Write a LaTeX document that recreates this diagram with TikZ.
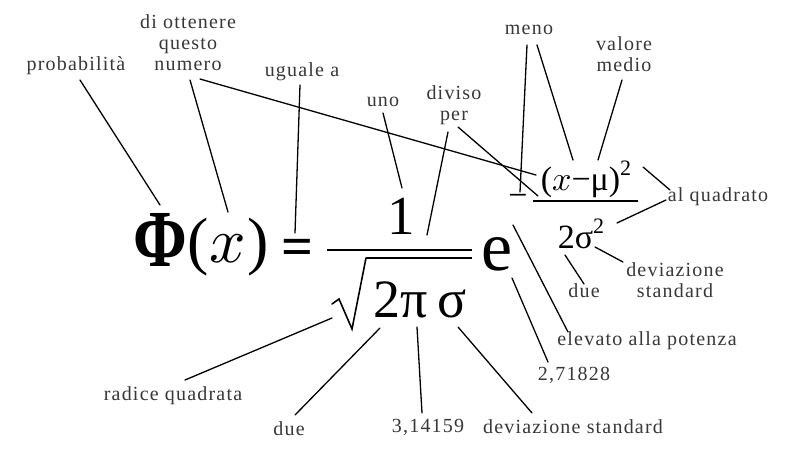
\documentclass[tikz,border=0pt]{standalone}
\usepackage{fontspec}
\setmainfont{Liberation Serif}
\newfontfamily\lblfont[LetterSpace=6]{Liberation Serif}
\newcommand{\bigx}[1]{\scalebox{#1}{\fontsize{10}{12}\selectfont$x$}}
\begin{document}
\begin{tikzpicture}[x=1pt,y=-1pt,line cap=round,
  lbl/.style={font=\lblfont\fontsize{20}{21}\selectfont,align=center,inner sep=0pt,text=black!78},
  conn/.style={line width=1.3pt},
  barline/.style={line width=2.2pt,line cap=butt},
  fm/.style={inner sep=0pt}]
\fill[white] (0,0) rectangle (793,472);
\useasboundingbox (0,0) rectangle (793,472);
% labels
\node[lbl] (prob) at (76,66) {probabilità};
\node[lbl] (ott) at (188,43) {di ottenere\\questo\\numero};
\node[lbl] (ug) at (302,72) {uguale a};
\node[lbl] (uno) at (383,102) {uno};
\node[lbl] (div) at (454,105) {diviso\\per};
\node[lbl] (meno) at (529,30) {meno};
\node[lbl] (valm) at (624,54) {valore\\medio};
\node[lbl] (alq) at (718,197) {al quadrato};
\node[lbl] (devr) at (675,280) {deviazione\\standard};
\node[lbl] (duer) at (584,291) {due};
\node[lbl] (elev) at (647,341) {elevato alla potenza};
\node[lbl] (eul) at (574,375) {2,71828};
\node[lbl] (devb) at (573,427) {deviazione standard};
\node[lbl] (pig) at (428,427) {3,14159};
\node[lbl] (dueb) at (289,429) {due};
\node[lbl] (rad) at (173,396) {radice quadrata};
% formula
\node[fm,font=\bfseries\fontsize{60}{60}\selectfont] (phi) at (160,240) {\scalebox{1.08}[1.35]{Φ}};
\node[fm,font=\fontsize{64}{64}\selectfont] (px) at (228,247) {(\kern1pt\bigx{6.4}\kern1pt)};
\node[fm,font=\bfseries\fontsize{56}{56}\selectfont] (eq) at (297,252) {=};
\node[fm,font=\fontsize{55}{55}\selectfont] (one) at (401,216) {1};
\node[fm,font=\fontsize{54}{54}\selectfont] (den) at (420,300) {2π\,σ};
\node[fm,font=\fontsize{70}{70}\selectfont] (ee) at (497,254) {e};
\node[fm,font=\fontsize{34}{34}\selectfont] (num) at (586,179) {(\bigx{3.4}−μ)\raisebox{0.45em}{\fontsize{22}{22}\selectfont 2}};
\node[fm,font=\fontsize{34}{34}\selectfont] (dnm) at (581,234) {2σ\raisebox{0.45em}{\fontsize{22}{22}\selectfont 2}};
\node[fm,font=\fontsize{34}{34}\selectfont] (mns) at (518,200) {−};
% bars and radical
\coordinate (fbL) at (327,250); \coordinate (fbR) at (472,250);
\draw[barline] (fbL) -- (fbR);
\coordinate (r1) at (332,304); \coordinate (r2) at (339,299);
\coordinate (r3) at (352,329); \coordinate (r4) at (366,258);
\coordinate (vR) at (472,258);
\draw[line width=1.6pt,line join=miter] (r1) -- (r2) -- (r3) -- (r4);
\draw[barline] (r4) -- (vR);
\coordinate (ebL) at (533,201); \coordinate (ebR) at (638,201);
\draw[barline,line width=1.8pt] (ebL) -- (ebR);
% connector endpoints
\coordinate (a1) at (80,80);   \coordinate (b1) at (160,205);
\coordinate (a2) at (190,80);  \coordinate (b2) at (228,212);
\coordinate (a3) at (200,79);  \coordinate (b3) at (536,175);
\coordinate (a4) at (300,85);  \coordinate (b4) at (295,233);
\coordinate (a5) at (383,113); \coordinate (b5) at (402,188);
\coordinate (a6) at (448,132); \coordinate (b6) at (427,235);
\coordinate (a7) at (458,127); \coordinate (b7) at (538,196);
\coordinate (a8) at (527,45);  \coordinate (b8) at (520,192);
\coordinate (a9) at (537,45);  \coordinate (b9) at (573,160);
\coordinate (a10) at (622,80); \coordinate (b10) at (598,160);
\coordinate (a11) at (670,190); \coordinate (b11) at (643,167);
\coordinate (a12) at (666,200); \coordinate (b12) at (617,223);
\coordinate (a13) at (623,262); \coordinate (b13) at (595,247);
\coordinate (a14) at (584,284); \coordinate (b14) at (565,255);
\coordinate (a15) at (568,332); \coordinate (b15) at (513,225);
\coordinate (a16) at (548,362); \coordinate (b16) at (512,278);
\coordinate (a17) at (532,413); \coordinate (b17) at (458,327);
\coordinate (a18) at (422,413); \coordinate (b18) at (417,327);
\coordinate (a19) at (295,415); \coordinate (b19) at (380,328);
\coordinate (a20) at (185,380); \coordinate (b20) at (332,318);
\foreach \i in {1,...,20} \draw[conn] (a\i) -- (b\i);
\end{tikzpicture}
\end{document}
